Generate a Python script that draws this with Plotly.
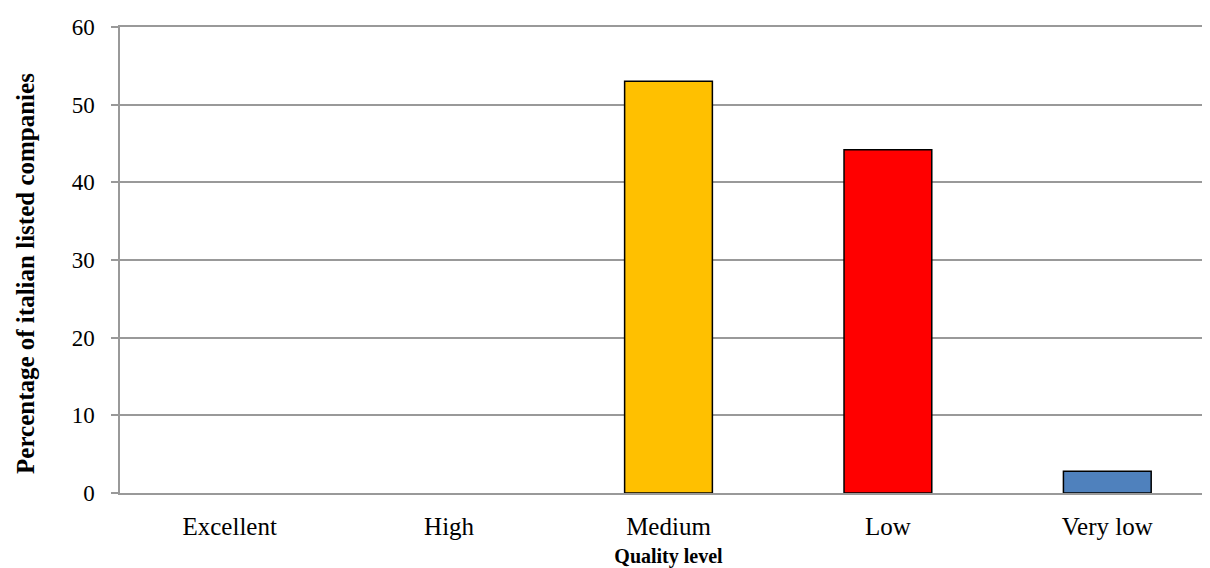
import plotly.graph_objects as go

categories = ["Excellent", "High", "Medium", "Low", "Very low"]
values = [0, 0, 53, 44.2, 2.8]
colors = ["#FFC000", "#FFC000", "#FFC000", "#FF0000", "#4F81BD"]
y_ticks = [0, 10, 20, 30, 40, 50, 60]

outline_widths = [0 if v == 0 else 1.5 for v in values]

fig = go.Figure(go.Bar(
    x=categories, y=values,
    marker=dict(color=colors, line=dict(color="black", width=outline_widths)),
    width=0.4,
))

font_family = "Liberation Serif, Times New Roman, serif"
fig.update_layout(
    width=1210, height=568,
    margin=dict(l=112, r=1, t=19, b=83),
    plot_bgcolor="white", paper_bgcolor="white",
    showlegend=False,
    font=dict(family=font_family, size=22, color="black"),
    xaxis=dict(
        showline=True, linecolor="#999999", linewidth=1.5, mirror=True,
        showgrid=False, ticks="outside", ticklen=10, tickcolor="rgba(0,0,0,0)",
        tickfont=dict(size=25),
        title=dict(text="<b>Quality level</b>", font=dict(size=20), standoff=10),
    ),
    yaxis=dict(
        range=[0, 60], tickvals=y_ticks,
        showline=True, linecolor="#999999", linewidth=1.5,
        showgrid=True, gridcolor="#999999", gridwidth=1.5,
        ticks="outside", ticklen=7, tickcolor="#999999", tickwidth=1.5,
        ticklabelstandoff=12, ticklabeloverflow="allow",
        tickfont=dict(size=23), zeroline=False,
    ),
    annotations=[dict(
        text="<b>Percentage of italian listed companies</b>",
        xref="paper", yref="paper", x=0, y=0.47,
        xanchor="center", yanchor="middle", xshift=-94,
        textangle=-90, showarrow=False,
        font=dict(size=25, family=font_family, color="black"),
    )],
)

fig.write_html("out.html")
